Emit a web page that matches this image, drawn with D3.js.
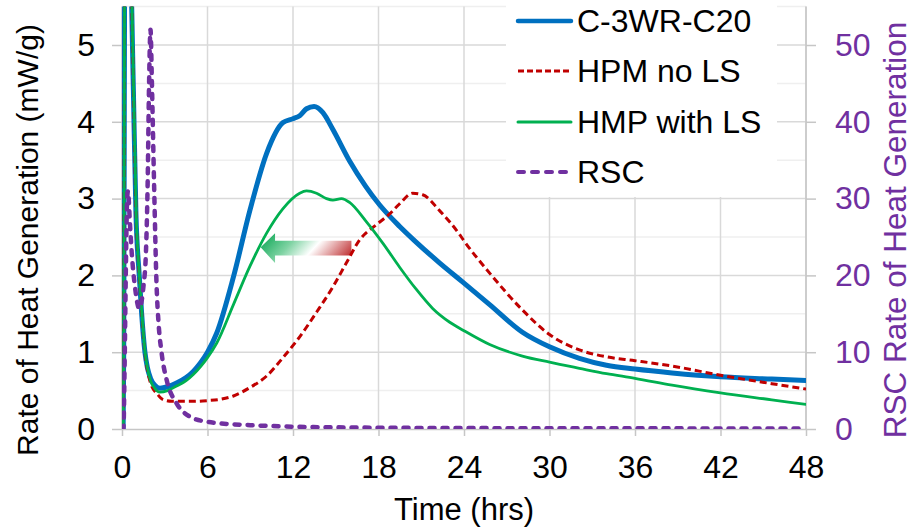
<!DOCTYPE html>
<html>
<head>
<meta charset="utf-8">
<script src="https://cdn.jsdelivr.net/npm/d3@7/dist/d3.min.js"></script>
<style>
  html, body { margin: 0; padding: 0; background: #ffffff; }
  svg { display: block; font-family: "Liberation Sans", Arial, sans-serif; }
</style>
</head>
<body>
<svg id="chart" width="913" height="531"></svg>
<script>
// ---- Data: heat of hydration curves (time in hours) ----
const timeC3WR = [0, 0.08, 0.12, 0.16, 0.2, 0.3, 0.45, 0.68, 0.8, 0.98, 1.21, 1.38, 1.61, 1.78, 2.0, 2.3, 2.66, 3.2, 3.83, 4.5, 5.0, 5.5, 6.0, 6.65, 7.82, 8.98, 10.15, 11.3, 12.0, 12.47, 12.95, 13.48, 14.1, 14.8, 15.97, 17.1, 18.07, 19.47, 20.6, 21.8, 22.3, 24, 25.8, 28.1, 30, 32.1, 34, 36, 38.6, 42, 45.6, 48];
const rateC3WR = [0, 0, 1.0, 4.0, 7.0, 8.5, 8.0, 5.5, 4.4, 2.8, 2.0, 1.5, 1.0, 0.8, 0.66, 0.57, 0.53, 0.55, 0.6, 0.67, 0.75, 0.86, 1.0, 1.25, 1.98, 2.85, 3.59, 3.99, 4.04, 4.08, 4.17, 4.2, 4.12, 3.9, 3.49, 3.16, 2.92, 2.64, 2.44, 2.24, 2.16, 1.9, 1.62, 1.26, 1.07, 0.92, 0.83, 0.78, 0.73, 0.68, 0.65, 0.63];

const timeHPMnoLS = [0, 0.08, 0.12, 0.16, 0.2, 0.3, 0.45, 0.69, 0.81, 0.99, 1.21, 1.39, 1.61, 1.8, 2.0, 2.5, 2.9, 3.5, 5.0, 6.0, 7.0, 7.82, 8.98, 10.15, 11.3, 12.47, 13.65, 14.8, 15.74, 16.67, 17.85, 18.78, 19.47, 20.4, 21.1, 22.3, 23.7, 24, 25.8, 28.1, 30, 32.1, 34, 36, 38.6, 42, 45.6, 48];
const rateHPMnoLS = [0, 0, 1.0, 4.0, 7.0, 8.5, 8.0, 5.5, 4.4, 2.8, 2.0, 1.5, 1.0, 0.75, 0.6, 0.45, 0.38, 0.36, 0.36, 0.37, 0.39, 0.43, 0.54, 0.69, 0.93, 1.2, 1.52, 1.85, 2.16, 2.46, 2.66, 2.8, 2.93, 3.07, 3.05, 2.84, 2.53, 2.45, 2.03, 1.55, 1.23, 1.03, 0.94, 0.89, 0.82, 0.7, 0.59, 0.52];

const timeHMPwithLS = [0, 0.08, 0.12, 0.16, 0.2, 0.3, 0.45, 0.7, 0.82, 1.0, 1.22, 1.4, 1.62, 1.8, 2.0, 2.3, 2.66, 3.2, 3.83, 4.5, 5.0, 5.5, 6.0, 6.65, 7.82, 8.98, 10.15, 11.3, 12.47, 12.95, 13.65, 14.35, 14.8, 15.4, 15.97, 17.1, 18.3, 19.47, 20.6, 21.8, 23, 24, 25.8, 28.1, 30, 32.1, 34, 36, 38.6, 42, 45.6, 48];
const rateHMPwithLS = [0, 0, 1.0, 4.0, 7.0, 8.5, 8.0, 5.5, 4.4, 2.8, 2.0, 1.5, 1.0, 0.78, 0.63, 0.53, 0.48, 0.5, 0.56, 0.63, 0.71, 0.81, 0.93, 1.12, 1.62, 2.12, 2.55, 2.87, 3.07, 3.1, 3.07, 3.0, 2.98, 3.0, 2.95, 2.71, 2.42, 2.11, 1.83, 1.57, 1.39, 1.28, 1.1, 0.95, 0.87, 0.79, 0.72, 0.66, 0.57, 0.47, 0.38, 0.32];

// RSC is plotted against the secondary (right) axis
const timeRSC = [0, 0.1, 0.18, 0.28, 0.36, 0.42, 0.55, 0.68, 0.91, 1.21, 1.5, 1.68, 1.8, 1.9, 2.0, 2.1, 2.25, 2.43, 2.55, 2.78, 3.13, 3.83, 4.77, 5.94, 6.87, 9, 12, 16, 20, 30, 40, 48];
const rateRSC = [0, 0, 8, 22, 30, 31, 27, 23, 18.5, 15.7, 18.5, 23, 32, 45, 52, 45, 32, 18.5, 14.2, 9.9, 6.4, 3.35, 1.6, 0.95, 0.74, 0.5, 0.3, 0.2, 0.15, 0.1, 0.08, 0.05];

const seriesNames = ["C-3WR-C20", "HPM no LS", "HMP with LS", "RSC"];
const xTicks = [0, 6, 12, 18, 24, 30, 36, 42, 48];
const yTicks = [0, 1, 2, 3, 4, 5];
const y2Ticks = [0, 10, 20, 30, 40, 50];

// ---- Layout ----
const svg = d3.select("#chart");
const plot = { left: 122, right: 806, top: 6.6, bottom: 429 };

const x = d3.scaleLinear().domain([0, 48]).range([plot.left, plot.right]);
const y = d3.scaleLinear().domain([0, 5.5]).range([plot.bottom, plot.top]);
const y2 = d3.scaleLinear().domain([0, 55]).range([plot.bottom, plot.top]);

const styles = [
  { color: "#0070C0", width: 5, dash: null, cap: "round" },
  { color: "#C00000", width: 3, dash: "7,4", cap: "butt" },
  { color: "#00B050", width: 2.8, dash: null, cap: "round" },
  { color: "#7030A0", width: 4.5, dash: "5,8", cap: "round" }
];

const defs = svg.append("defs");
defs.append("clipPath").attr("id", "plotClip")
  .append("rect")
  .attr("x", plot.left).attr("y", plot.top)
  .attr("width", plot.right - plot.left).attr("height", plot.bottom - plot.top);

const grad = defs.append("linearGradient").attr("id", "shiftGrad")
  .attr("x1", "0").attr("y1", "0.35").attr("x2", "1").attr("y2", "0.65");
grad.append("stop").attr("offset", "0%").attr("stop-color", "#1fae62");
grad.append("stop").attr("offset", "30%").attr("stop-color", "#7fd3a3");
grad.append("stop").attr("offset", "58%").attr("stop-color", "#ffffff");
grad.append("stop").attr("offset", "100%").attr("stop-color", "#c2393b");

// ---- Gridlines ----
const grid = svg.append("g");
grid.selectAll("line.minor")
  .data(d3.range(0.5, 5.6, 1))
  .join("line")
  .attr("x1", plot.left).attr("x2", plot.right)
  .attr("y1", d => y(d)).attr("y2", d => y(d))
  .attr("stroke", "#efefef").attr("stroke-width", 1.5);
grid.selectAll("line.hmajor")
  .data(yTicks.slice(1))
  .join("line")
  .attr("x1", plot.left).attr("x2", plot.right)
  .attr("y1", d => y(d)).attr("y2", d => y(d))
  .attr("stroke", "#d9d9d9").attr("stroke-width", 1.5);
grid.selectAll("line.vmajor")
  .data(xTicks.slice(1))
  .join("line")
  .attr("x1", d => x(d)).attr("x2", d => x(d))
  .attr("y1", plot.top).attr("y2", plot.bottom)
  .attr("stroke", "#d9d9d9").attr("stroke-width", 1.5);

// ---- Axes ----
const axisColor = "#c6c6c6";
function styleAxis(g) {
  g.select(".domain").attr("stroke", axisColor).attr("stroke-width", 1.5);
  g.selectAll(".tick line").attr("stroke", axisColor).attr("stroke-width", 1.5);
  g.selectAll(".tick text").attr("font-family", '"Liberation Sans", Arial, sans-serif')
    .attr("font-size", 32);
}
const fmt = d3.format("d");

const gx = svg.append("g").attr("transform", `translate(0,${plot.bottom})`)
  .call(d3.axisBottom(x).tickValues(xTicks).tickFormat(fmt).tickSize(7).tickSizeOuter(0).tickPadding(19));
styleAxis(gx);
gx.selectAll(".tick text").attr("fill", "#000");

const gy = svg.append("g").attr("transform", `translate(${plot.left},0)`)
  .call(d3.axisLeft(y).tickValues(yTicks).tickFormat(fmt).tickSize(10).tickSizeOuter(0).tickPadding(17));
styleAxis(gy);
gy.select(".domain").attr("d", `M0,${plot.bottom}V${plot.top}`);
gy.selectAll(".tick text").attr("fill", "#000");

const gy2 = svg.append("g").attr("transform", `translate(${plot.right},0)`)
  .call(d3.axisRight(y2).tickValues(y2Ticks).tickFormat(fmt).tickSize(10).tickSizeOuter(0).tickPadding(19));
styleAxis(gy2);
gy2.select(".domain").attr("d", `M0,${plot.bottom}V${plot.top}`);
gy2.selectAll(".tick text").attr("fill", "#7030A0");

// Axis titles
svg.append("text")
  .attr("transform", `translate(${x(24)},520)`)
  .attr("text-anchor", "middle").attr("font-size", 31).attr("fill", "#000")
  .text("Time (hrs)");
svg.append("text")
  .attr("transform", "translate(38,240) rotate(-90)")
  .attr("text-anchor", "middle").attr("font-size", 30).attr("fill", "#000")
  .text("Rate of Heat Generation (mW/g)");
svg.append("text")
  .attr("transform", "translate(906,230) rotate(-90)")
  .attr("text-anchor", "middle").attr("font-size", 31.5).attr("fill", "#7030A0")
  .text("RSC Rate of Heat Generation");

// ---- Series ----
const lineL = d3.line().x(d => x(d[0])).y(d => y(d[1])).curve(d3.curveMonotoneX);
const lineR = d3.line().x(d => x(d[0])).y(d => y2(d[1])).curve(d3.curveMonotoneX);

const series = [
  { pts: d3.zip(timeC3WR, rateC3WR), gen: lineL },
  { pts: d3.zip(timeHPMnoLS, rateHPMnoLS), gen: lineL },
  { pts: d3.zip(timeHMPwithLS, rateHMPwithLS), gen: lineL },
  { pts: d3.zip(timeRSC, rateRSC), gen: lineR }
];

const marks = svg.append("g").attr("clip-path", "url(#plotClip)");

// Shift arrow between the two HPM peaks
const arrowPts = [
  [9.73, 2.366], [10.74, 2.55], [10.74, 2.45], [16.1, 2.45],
  [16.1, 2.26], [10.74, 2.26], [10.74, 2.16]
];
marks.append("path")
  .attr("d", "M" + arrowPts.map(p => `${x(p[0])},${y(p[1])}`).join("L") + "Z")
  .attr("fill", "url(#shiftGrad)");

series.forEach((s, i) => {
  const st = styles[i];
  marks.append("path")
    .attr("d", s.gen(s.pts))
    .attr("fill", "none")
    .attr("stroke", st.color)
    .attr("stroke-width", st.width)
    .attr("stroke-linecap", st.cap)
    .attr("stroke-linejoin", "round")
    .attr("stroke-dasharray", st.dash);
});

// ---- Legend ----
const legend = svg.append("g");
legend.append("rect")
  .attr("x", 506).attr("y", 0).attr("width", 271).attr("height", 197)
  .attr("fill", "#ffffff");
const legendRowY = [21, 71, 122, 172];
seriesNames.forEach((name, i) => {
  const st = styles[i];
  legend.append("line")
    .attr("x1", 518).attr("x2", 571)
    .attr("y1", legendRowY[i]).attr("y2", legendRowY[i])
    .attr("stroke", st.color)
    .attr("stroke-width", i === 0 ? 4.5 : (i === 3 ? 4 : 3))
    .attr("stroke-linecap", st.cap)
    .attr("stroke-dasharray", i === 1 ? "6,3" : (i === 3 ? "6,8" : null));
  legend.append("text")
    .attr("x", 577).attr("y", legendRowY[i] + 11)
    .attr("font-size", 32).attr("fill", "#000")
    .text(name);
});
</script>
</body>
</html>
